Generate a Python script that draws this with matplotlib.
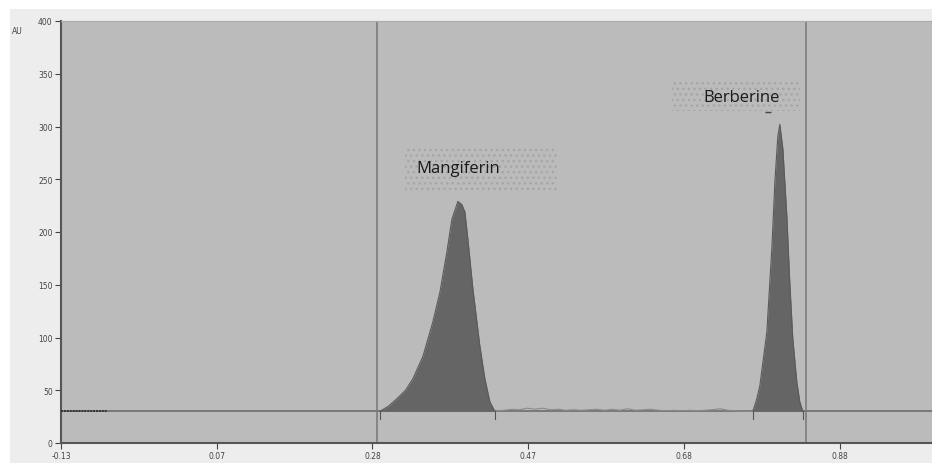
import numpy as np
import matplotlib
matplotlib.use("Agg")
import matplotlib.pyplot as plt
from matplotlib.patches import Rectangle

# densitogram values (Rf, AU)
baseline = 30
mang_x = [0.2838, 0.2950, 0.3058, 0.3170, 0.3266, 0.3395, 0.3525, 0.3616, 0.3706,
          0.3771, 0.3849, 0.3900, 0.3940, 0.3979, 0.4044, 0.4134, 0.4199, 0.4264, 0.4329]
mang_y = [30, 35, 42, 50, 61, 82, 115, 143, 181,
          212, 229, 226, 219, 193, 146, 92, 61, 39, 30]

berb_x = [0.7675, 0.7720, 0.7766, 0.7857, 0.7922, 0.7961, 0.8000, 0.8026, 0.8065,
          0.8117, 0.8155, 0.8194, 0.8246, 0.8285, 0.8324]
berb_y = [30, 40, 54, 105, 184, 247, 291, 302, 279,
          215, 152, 99, 58, 39, 30]

noise_x = [0.433, 0.445, 0.455, 0.465, 0.475, 0.485, 0.495, 0.505, 0.515, 0.525,
           0.535, 0.545, 0.555, 0.565, 0.575, 0.585, 0.595, 0.605, 0.615, 0.625,
           0.635, 0.645, 0.655, 0.665, 0.675, 0.685, 0.695, 0.705, 0.715, 0.725,
           0.735, 0.745, 0.755, 0.7675]
noise_y = [30, 31, 32, 31.5, 33, 32, 33, 31.5, 32, 31,
           31.5, 31, 31.5, 32, 31, 32, 31, 32.5, 31, 31.5,
           32, 31, 30.5, 31, 30.5, 31, 30.5, 31, 31.5, 32.5,
           31, 30.5, 30, 30]

track_lines = [0.28, 0.836]
peak_names = ["Mangiferin", "Berberine"]
xtick_labels = ["-0.13", "0.07", "0.28", "0.47", "0.68", "0.88"]
yticks = [0, 50, 100, 150, 200, 250, 300, 350, 400]

fig = plt.figure(figsize=(9.32, 4.64), dpi=100)
fig.patch.set_facecolor("white")
fig.patches.append(Rectangle((10 / 932, 0), 1, (464 - 10) / 464, transform=fig.transFigure,
                             facecolor="#ededed", edgecolor="none", zorder=-1))

ax = fig.add_axes([61 / 932, 20 / 464, (932 - 61) / 932, 422 / 464])
ax.set_facecolor("#bbbbbb")
ax.set_xlim(-0.13, 1.0)
ax.set_ylim(0, 400)

# baseline
ax.axhline(baseline, color="#6e6e6e", lw=1.2, zorder=2)
ax.plot([-0.13, -0.07], [baseline, baseline], color="#333333", lw=1.4, ls=(0, (1, 0.5)), zorder=3)

# peaks
ax.fill_between(mang_x, baseline, mang_y, color="#656565", lw=0, zorder=3)
ax.plot(mang_x, mang_y, color="#5a5a5a", lw=0.8, zorder=3)
ax.fill_between(berb_x, baseline, berb_y, color="#656565", lw=0, zorder=3)
ax.plot(berb_x, berb_y, color="#5a5a5a", lw=0.8, zorder=3)
ax.plot(noise_x, noise_y, color="#8a8a8a", lw=0.8, zorder=3)

# peak start/end markers
for xs in [mang_x, berb_x]:
    for xv in [xs[0], xs[-1]]:
        ax.plot([xv, xv], [baseline, baseline - 7], color="#555555", lw=0.8, zorder=3)

# track lines
for xv in track_lines:
    ax.axvline(xv, color="#777777", lw=1.1, zorder=2)

# labels with dotted background boxes
box_specs = [(0.316, 0.513, 239, 281), (0.6625, 0.8285, 315, 345)]
text_xy = [(0.386, 261), (0.7533, 328)]
for name, (x0, x1, y0, y1), (tx, ty) in zip(peak_names, box_specs, text_xy):
    ax.add_patch(Rectangle((x0, y0), x1 - x0, y1 - y0, facecolor="none", edgecolor="#a6a6a6",
                           hatch="...", lw=0, zorder=1))
    ax.text(tx, ty, name, ha="center", va="center", fontsize=12, family="Open Sans",
            color="#1a1a1a", zorder=4)
ax.plot([0.787], [314], marker="_", color="#444444", ms=4, mew=1.0, zorder=4)

# axes styling
xticks = np.linspace(-0.13, 0.88, 6)
ax.set_xticks(xticks)
ax.set_xticklabels(xtick_labels)
ax.set_yticks(yticks)
ax.tick_params(axis="both", labelsize=5.5, colors="#444444", length=4, width=0.8, pad=2)
for side in ["left", "bottom"]:
    ax.spines[side].set_color("#555555")
    ax.spines[side].set_linewidth(1.5)
ax.spines["top"].set_color("#aaaaaa")
ax.spines["top"].set_linestyle((0, (2, 1)))
ax.spines["top"].set_linewidth(0.8)
ax.spines["right"].set_visible(False)

fig.text(12 / 932, 1 - 32 / 464, "AU", fontsize=5.5, color="#444444", va="center")

fig.savefig("out.png", dpi=100, facecolor=fig.get_facecolor())
